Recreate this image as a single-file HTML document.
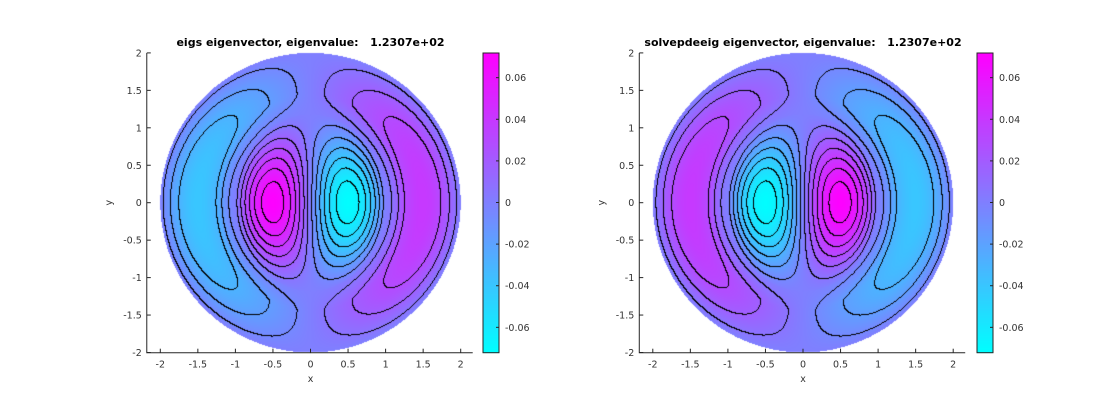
<!DOCTYPE html>
<html><head><meta charset="utf-8"><style>
body{margin:0;background:#fff;width:1120px;height:420px;overflow:hidden;position:relative;font-family:"DejaVu Sans",sans-serif}
canvas{position:absolute;left:0;top:0}
svg{position:absolute;left:0;top:0}
</style></head><body>
<canvas id="c" width="1120" height="420"></canvas>
<svg width="1120" height="420" xmlns="http://www.w3.org/2000/svg" font-family="DejaVu Sans, sans-serif" font-size="9.5" fill="#333">
<g id="ax"></g>
</svg>
<script>
const cv=document.getElementById('c'),ctx=cv.getContext('2d');
const img=ctx.createImageData(1120,420);const d=img.data;
for(let i=0;i<d.length;i+=4){d[i]=d[i+1]=d[i+2]=255;d[i+3]=255;}
const VM=0.072;
function f(x,y){
 const ys=y*0.85;
 const r=Math.hypot(x,ys);if(r<1e-9)return 0;const c=x/r;
 const R=Math.hypot(x,y);
 let v;
 if(r<1) v=Math.sin(Math.PI*r)*0.071;
 else v=Math.sin(Math.PI*Math.min(R,2))*0.04*Math.min(1,(r-1)*3+0.3);
 if(r>=1&&R<1)v=0;
 return -v*c;}
function lev(v){return Math.floor((v-0.006)/0.0115);}
const S=75.1,SY=74.9,CY=202.7;
const panels=[{cx:310.5,s:1,cb:483},{cx:803,s:-1,cb:977}];
let svg='';
for(const p of panels){
 const vals={};
 const x0=Math.round(p.cx-155),x1=Math.round(p.cx+155);
 for(let py=50;py<356;py++){for(let px=x0;px<x1;px++){
  const x=(px+0.5-p.cx)/S,y=-(py+0.5-CY)/SY;
  if(x*x+y*y>4)continue;
  const v=p.s*f(x,y);let t=(v+VM)/(2*VM);t=Math.max(0,Math.min(1,t));
  const k=(py*1120+px)*4;d[k]=255*t;d[k+1]=255*(1-t);d[k+2]=255;
  vals[py*1120+px]=lev(v);
 }}
 for(let py=50;py<356;py++){for(let px=x0;px<x1;px++){
  const a=vals[py*1120+px];if(a===undefined)continue;
  const b=vals[py*1120+px+1],c=vals[(py+1)*1120+px];
  if((b!==undefined&&b!==a)||(c!==undefined&&c!==a)){const k=(py*1120+px)*4;d[k]=d[k+1]=d[k+2]=0;}
 }}
 for(let py=53;py<353;py++){const t=1-(py-53)/299;for(let px=p.cb;px<p.cb+16;px++){const k=(py*1120+px)*4;d[k]=255*t;d[k+1]=255*(1-t);d[k+2]=255;}}
 const L=p.cx-2.18*S,R=p.cx+2.16*S,B=352.7,T=53;
 svg+=`<path d="M${L} ${T}V${B}H${R}" stroke="#262626" fill="none" stroke-width="1"/>`;
 for(let v=-2;v<=2;v+=0.5){const X=p.cx+v*S;svg+=`<path d="M${X} ${B}v-4" stroke="#262626"/><text x="${X}" y="${B+15}" text-anchor="middle">${v}</text>`;
  const Y=CY-v*SY;svg+=`<path d="M${L} ${Y}h4" stroke="#262626"/><text x="${L-5}" y="${Y+3.5}" text-anchor="end">${v}</text>`;}
 svg+=`<text x="${p.cx}" y="382" text-anchor="middle">x</text><text transform="translate(${L-35},${CY}) rotate(-90)" text-anchor="middle">y</text>`;
 svg+=`<rect x="${p.cb}" y="53" width="16" height="299.7" fill="none" stroke="#262626"/>`;
 for(const v of [-0.06,-0.04,-0.02,0,0.02,0.04,0.06]){const Y=202.5-v/VM*149.8;svg+=`<path d="M${p.cb+16} ${Y}h-3" stroke="#262626"/><text x="${p.cb+22}" y="${Y+3.5}">${v}</text>`;}
}
ctx.putImageData(img,0,0);
svg+=`<text x="310.5" y="46" text-anchor="middle" font-weight="bold" font-size="11" fill="#000" xml:space="preserve">eigs eigenvector, eigenvalue:   1.2307e+02</text>`;
svg+=`<text x="803" y="46" text-anchor="middle" font-weight="bold" font-size="11" fill="#000" xml:space="preserve">solvepdeeig eigenvector, eigenvalue:   1.2307e+02</text>`;
document.getElementById('ax').innerHTML=svg;
</script>
</body></html>
